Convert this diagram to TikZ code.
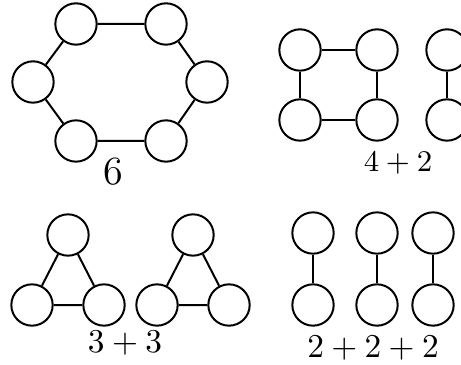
\documentclass[tikz,border=0pt]{standalone}
\begin{document}
\begin{tikzpicture}[
  x=0.3pt, y=-0.3pt,
  vertex/.style={draw, circle, minimum size=12.4pt, inner sep=0pt, line width=0.6pt, fill=white},
  edge/.style={line width=0.6pt},
  lbl/.style={font=\normalsize, inner sep=0pt}
]
\useasboundingbox (0,0) rectangle (461,364);

% six in one cycle
\node[vertex] (hexa) at (76,24) {};
\node[vertex] (hexb) at (166,24) {};
\node[vertex] (hexc) at (207,82) {};
\node[vertex] (hexd) at (166,141) {};
\node[vertex] (hexe) at (76,141) {};
\node[vertex] (hexf) at (33,82) {};
\draw[edge] (hexa) -- (hexb) (hexb) -- (hexc) (hexc) -- (hexd)
  (hexd) -- (hexe) (hexe) -- (hexf) (hexf) -- (hexa);
\node[lbl, font=\large] (lsix) at (113,172) {$6$};

% square and a pair
\node[vertex] (sqa) at (300,50) {};
\node[vertex] (sqb) at (377,50) {};
\node[vertex] (sqc) at (377,120) {};
\node[vertex] (sqd) at (300,120) {};
\draw[edge] (sqa) -- (sqb) -- (sqc) -- (sqd) -- (sqa);
\node[vertex] (pra) at (447,50) {};
\node[vertex] (prb) at (447,120) {};
\draw[edge] (pra) -- (prb);
\node[lbl, font=\small] (lfour) at (398,163) {$4+2$};

% two triangles
\foreach \i/\x in {1/68, 2/193} {
  \node[vertex] (tri\i a) at (\x,235) {};
  \node[vertex] (tri\i b) at (\x-36,305) {};
  \node[vertex] (tri\i c) at (\x+36,305) {};
  \draw[edge] (tri\i a) -- (tri\i b) -- (tri\i c) -- (tri\i a);
}
\node[lbl] (lthree) at (125,343) {$3+3$};

% three pairs
\foreach \i/\x in {1/313, 2/377, 3/433} {
  \node[vertex] (dup\i a) at (\x,233) {};
  \node[vertex] (dup\i b) at (\x,305) {};
  \draw[edge] (dup\i a) -- (dup\i b);
}
\node[lbl] (ltwo) at (373,348) {$2+2+2$};

\end{tikzpicture}
\end{document}
